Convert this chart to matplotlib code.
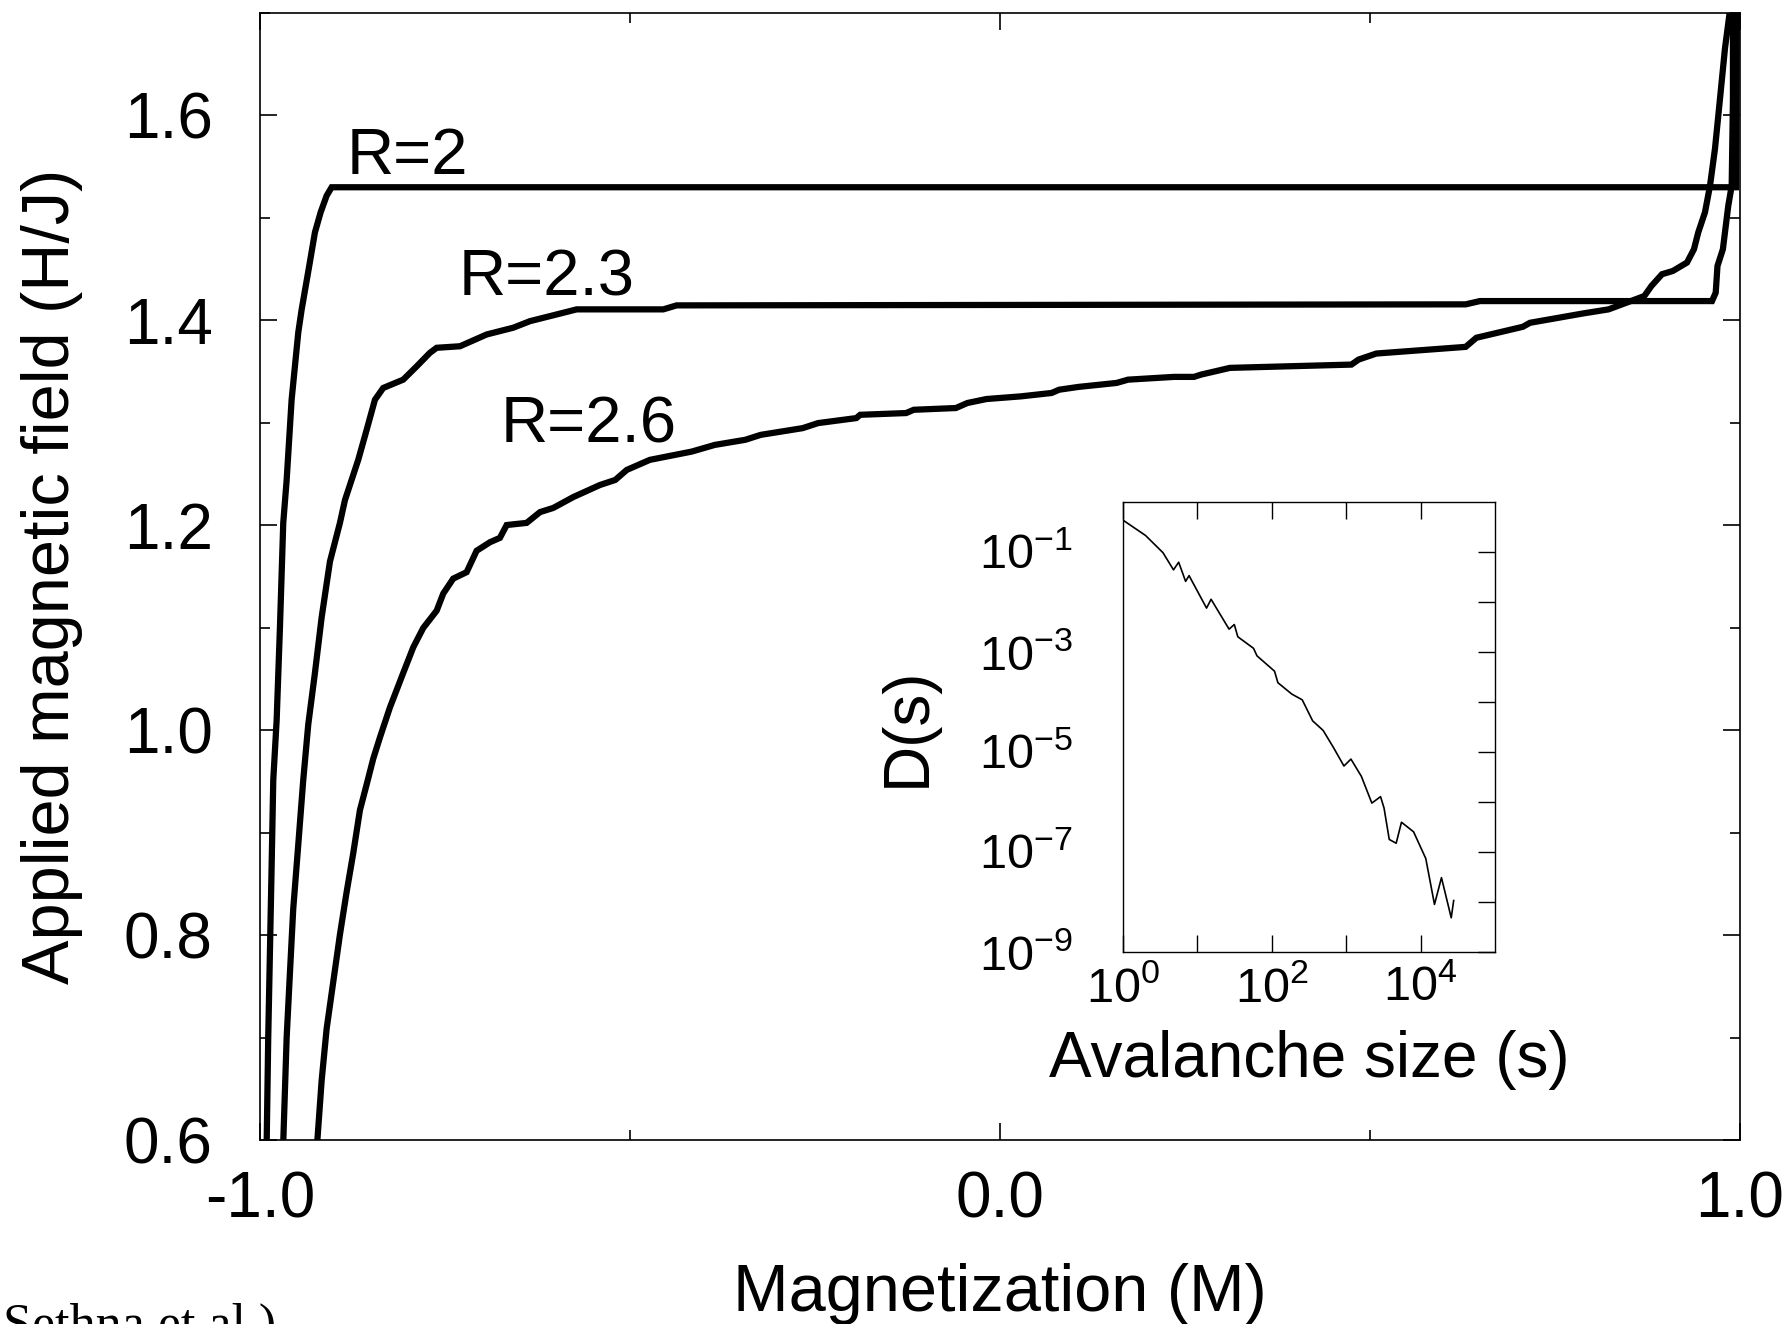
import matplotlib
matplotlib.use('Agg')
import matplotlib.pyplot as plt
from matplotlib.ticker import MultipleLocator, FormatStrFormatter, NullLocator

plt.rcParams['font.family'] = ['Liberation Sans', 'DejaVu Sans']
plt.rcParams['axes.unicode_minus'] = False

# upper branches of the hysteresis loops: magnetization M and field H/J
R2_M = [-0.9909, -0.9888, -0.9865, -0.9842, -0.9820, -0.9774, -0.9730, -0.9685,
        -0.9639, -0.9572, -0.9482, -0.9436, -0.9334, -0.9257, -0.9180, -0.9099,
        -0.9031, 0.9946, 0.9959]
R2_H = [0.5977, 0.700, 0.7838, 0.8675, 0.9513, 1.0101, 1.0998, 1.2023,
        1.2442, 1.3225, 1.3882, 1.4107, 1.4531, 1.4858, 1.5054, 1.5216,
        1.5299, 1.5299, 1.72]

R23_M = [-0.9685, -0.9639, -0.9595, -0.9550, -0.9482, -0.9415, -0.9347, -0.9257,
         -0.9166, -0.9054, -0.8919, -0.8851, -0.8672, -0.8558, -0.8446, -0.8334,
         -0.8064, -0.7882, -0.7703, -0.7612, -0.7297, -0.6936, -0.6577, -0.6351,
         -0.6081, -0.5720, -0.4550, -0.4369, 0.6293, 0.6486, 0.9622, 0.9672,
         0.9696, 0.9769, 0.9797, 0.9842, 0.9888, 0.9905, 0.9905]
R23_H = [0.5977, 0.700, 0.7628, 0.8256, 0.8884, 0.9512, 1.0056, 1.0558,
         1.1102, 1.1646, 1.2023, 1.2246, 1.2638, 1.2931, 1.3225, 1.3340,
         1.3421, 1.3551, 1.3683, 1.3732, 1.3747, 1.3862, 1.3928, 1.3992,
         1.4041, 1.4107, 1.4107, 1.4146, 1.4156, 1.4188, 1.4188, 1.4270,
         1.4531, 1.4694, 1.4858, 1.5119, 1.5314, 1.6164, 1.72]

R26_M = [-0.9226, -0.9166, -0.9099, -0.9009, -0.8919, -0.8828, -0.8739, -0.8649,
         -0.8558, -0.8469, -0.8378, -0.8243, -0.8153, -0.8064, -0.7928, -0.7793,
         -0.7612, -0.7523, -0.7388, -0.7207, -0.7072, -0.6892, -0.6757, -0.6666,
         -0.6396, -0.6216, -0.6036, -0.5766, -0.5405, -0.5199, -0.5043, -0.4732,
         -0.4165, -0.3854, -0.3441, -0.3234, -0.2665, -0.2458, -0.1941, -0.1889,
         -0.1268, -0.1165, -0.0596, -0.0441, -0.0182, 0.0284, 0.0697, 0.0801,
         0.1059, 0.1576, 0.1731, 0.2351, 0.2622, 0.2716, 0.3108, 0.4749,
         0.4846, 0.5086, 0.6293, 0.6438, 0.7066, 0.7162, 0.7886, 0.8224,
         0.8465, 0.8707, 0.8803, 0.8946, 0.9093, 0.9284, 0.9378, 0.9436,
         0.9527, 0.9595, 0.9662, 0.9730, 0.9797, 0.9865, 0.9878]
R26_H = [0.5977, 0.6582, 0.7084, 0.7545, 0.8005, 0.8423, 0.8800, 0.9219,
         0.9470, 0.9721, 0.9930, 1.0223, 1.0391, 1.0558, 1.0809, 1.0998,
         1.1166, 1.1333, 1.1479, 1.1542, 1.1751, 1.1834, 1.1877, 1.2002,
         1.2023, 1.2128, 1.2169, 1.2275, 1.2393, 1.2442, 1.2540, 1.2638,
         1.2719, 1.2784, 1.2834, 1.2882, 1.2948, 1.2997, 1.3046, 1.3078,
         1.3095, 1.3127, 1.3144, 1.3193, 1.3232, 1.3258, 1.3291, 1.3323,
         1.3350, 1.3389, 1.3421, 1.3448, 1.3448, 1.3470, 1.3536, 1.3568,
         1.3617, 1.3676, 1.3741, 1.3830, 1.3937, 1.3976, 1.4068, 1.4107,
         1.4172, 1.4237, 1.4335, 1.4450, 1.4482, 1.4564, 1.4694, 1.4858,
         1.5054, 1.5314, 1.5674, 1.6164, 1.6653, 1.7028, 1.72]

# avalanche size distribution D(s)
AVAL_S = [1.0, 2.01, 3.45, 4.78, 5.61, 6.95, 7.74, 13.3, 15.3, 26.7, 31.4, 35.0,
          56.9, 63.4, 109, 121, 186, 257, 355, 491, 678, 935, 1161, 1603,
          2218, 2904, 3236, 3802, 4710, 5546, 8072, 11776, 15417, 19143, 25882, 27925]
AVAL_D = [0.430, 0.212, 0.0959, 0.0435, 0.0618, 0.0256, 0.0333, 7.46e-3, 1.12e-2,
          2.83e-3, 3.50e-3, 1.99e-3, 1.17e-3, 8.26e-4, 4.08e-4, 2.40e-4, 1.42e-4,
          1.09e-4, 4.13e-5, 2.66e-5, 1.20e-5, 5.16e-6, 7.10e-6, 3.21e-6, 9.35e-7,
          1.26e-6, 7.43e-7, 1.75e-7, 1.47e-7, 3.87e-7, 2.49e-7, 7.26e-8, 8.77e-9,
          3.01e-8, 4.74e-9, 1.05e-8]

INSET_XTICKS = [1e0, 1e1, 1e2, 1e3, 1e4]
INSET_XLABELS = [r'$\mathdefault{10^{0}}$', '', r'$\mathdefault{10^{2}}$', '',
                 r'$\mathdefault{10^{4}}$']
INSET_YTICKS = [1e-9, 1e-8, 1e-7, 1e-6, 1e-5, 1e-4, 1e-3, 1e-2, 1e-1]
INSET_YLABELS = [r'$\mathdefault{10^{-9}}$', '', r'$\mathdefault{10^{-7}}$', '',
                 r'$\mathdefault{10^{-5}}$', '', r'$\mathdefault{10^{-3}}$', '',
                 r'$\mathdefault{10^{-1}}$']

LABELS = [('R=2', -0.8824, 1.5429), ('R=2.3', -0.7311, 1.4244), ('R=2.6', -0.6747, 1.2804)]


fig = plt.figure(figsize=(17.89, 13.24), dpi=100)
ax = fig.add_axes([0.1453, 0.1390, 0.8273, 0.8512])

for m, h in [(R2_M, R2_H), (R23_M, R23_H), (R26_M, R26_H)]:
    ax.plot(m, h, color='black', linewidth=4.5, solid_joinstyle='miter')

for text, x, y in LABELS:
    ax.text(x, y, text, fontsize=47, ha='left', va='baseline')

ax.set_xlim(-1.0, 1.0)
ax.set_ylim(0.6, 1.7)
ax.xaxis.set_major_locator(MultipleLocator(1.0))
ax.xaxis.set_minor_locator(MultipleLocator(0.5))
ax.yaxis.set_major_locator(MultipleLocator(0.2))
ax.yaxis.set_minor_locator(MultipleLocator(0.1))
ax.xaxis.set_major_formatter(FormatStrFormatter('%.1f'))
ax.yaxis.set_major_formatter(FormatStrFormatter('%.1f'))
ax.tick_params(which='both', direction='in', top=True, right=True, width=1.2, labelsize=46)
ax.tick_params(which='major', length=12.5)
ax.tick_params(which='minor', length=7)
ax.tick_params(axis='x', pad=22)
ax.tick_params(axis='y', pad=34)
for sp in ax.spines.values():
    sp.set_linewidth(1.2)

ax.set_xlabel('Magnetization (M)', fontsize=48)
ax.set_ylabel('Applied magnetic field (H/J)', fontsize=48)
ax.xaxis.set_label_coords(0.5, -0.109)
ax.yaxis.set_label_coords(-0.1196, 0.5)

# inset: avalanche size distribution
ins = fig.add_axes([0.6277, 0.2813, 0.2079, 0.3397])
ins.plot(AVAL_S, AVAL_D, color='black', linewidth=1.2)
ins.set_xscale('log')
ins.set_yscale('log')
ins.set_xlim(1, 1e5)
ins.set_ylim(1e-9, 1)
ins.set_xticks(INSET_XTICKS, INSET_XLABELS)
ins.set_yticks(INSET_YTICKS, INSET_YLABELS)
ins.xaxis.set_minor_locator(NullLocator())
ins.yaxis.set_minor_locator(NullLocator())
ins.tick_params(direction='in', length=12, width=1.0, labelsize=35)
ins.tick_params(axis='x', top=True, bottom=True, pad=10.5)
ins.tick_params(axis='y', left=False, right=True, pad=36)
for sp in ins.spines.values():
    sp.set_linewidth(1.0)
ins.set_xlabel('Avalanche size (s)', fontsize=46)
ins.set_ylabel('D(s)', fontsize=46)
ins.xaxis.set_label_coords(0.5, -0.1746)
ins.yaxis.set_label_coords(-0.497, 0.5)

# cropped citation at the bottom edge
fig.text(0.0017, -0.0121, 'Sethna et al.)', fontsize=37.5, family='Liberation Serif',
         ha='left', va='baseline')

fig.savefig('out.png', dpi=100, facecolor='white')
